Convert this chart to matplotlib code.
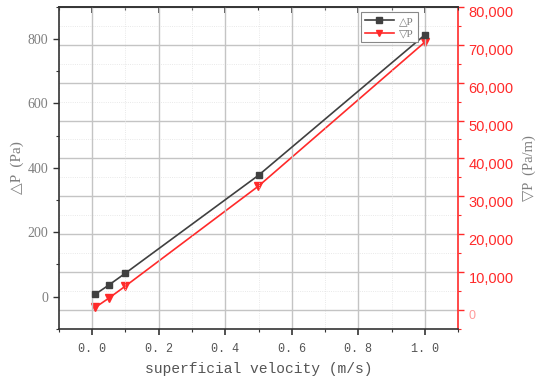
import matplotlib.pyplot as plt
from matplotlib.ticker import MultipleLocator, FuncFormatter
from matplotlib.lines import Line2D
from matplotlib.transforms import ScaledTranslation

# data
velocity = [0.01, 0.05, 0.1, 0.5, 1.0]          # superficial velocity (m/s)
dp = [8, 36, 73, 377, 813]                      # pressure drop (Pa)
grad_p = [700, 3100, 6300, 32700, 70700]        # pressure gradient (Pa/m)

gray_txt = '#7f7f7f'
red = '#ff2a2a'
dark = '#404040'
serif = ['Liberation Serif', 'DejaVu Serif']
mono = ['Liberation Mono', 'DejaVu Sans Mono']

fig = plt.figure(figsize=(5.5, 3.82), dpi=100)
ax = fig.add_axes([0.107, 0.139, 0.726, 0.843])
ax2 = ax.twinx()
ax.set_zorder(ax2.get_zorder() + 1)
ax.patch.set_visible(False)

# right axis: gradient + horizontal grid
ax2.plot(velocity, grad_p, color=red, lw=1.2, marker='v', ms=6, zorder=3)
ax2.set_ylim(-5000, 80000)
ax2.yaxis.set_major_locator(MultipleLocator(10000))
ax2.yaxis.set_minor_locator(MultipleLocator(5000))
ax2.yaxis.set_major_formatter(FuncFormatter(lambda v, p: f'{int(v):,}'))
ax2.tick_params(axis='y', which='major', colors=red, labelsize=10.5, length=4, width=1)
ax2.tick_params(axis='y', which='minor', colors=red, length=2.5, width=0.8)
ax2.grid(axis='y', which='major', color='#c4c4c4', lw=1)
ax2.grid(axis='y', which='minor', color='#e2e2e2', lw=0.6, ls=':')
for s in ['left', 'top', 'bottom']:
    ax2.spines[s].set_visible(False)
ax2.spines['right'].set_color(red)
ax2.spines['right'].set_linewidth(1.2)
ax2.set_ylabel('▽P  (Pa/m)', family=serif, fontsize=10.5, color=gray_txt, labelpad=6)

# left axis: pressure drop + vertical grid
ax.plot(velocity, dp, color=dark, lw=1.2, marker='s', ms=4.8, zorder=3)
ax.set_xlim(-0.1, 1.1)
ax.set_ylim(-100, 900)
ax.xaxis.set_major_locator(MultipleLocator(0.2))
ax.xaxis.set_minor_locator(MultipleLocator(0.1))
ax.yaxis.set_major_locator(MultipleLocator(200))
ax.yaxis.set_minor_locator(MultipleLocator(100))
ax.xaxis.set_major_formatter(FuncFormatter(lambda v, p: f'{v:.1f}'.replace('.', '. ')))
ax.tick_params(axis='x', which='both', direction='out', colors='#333333')
ax.tick_params(axis='x', which='major', length=4, width=1.2, labelsize=8.5, labelcolor='#555555', pad=6)
ax.tick_params(axis='x', which='minor', length=2.5, width=0.8)
ax.tick_params(axis='y', which='major', length=4, width=1, labelsize=10, labelcolor=gray_txt, colors='#333333')
ax.tick_params(axis='y', which='minor', length=2.5, width=0.8, colors='#333333')
ax.grid(axis='x', which='major', color='#c4c4c4', lw=1)
ax.grid(axis='x', which='minor', color='#e2e2e2', lw=0.6, ls=':')
ax.spines['right'].set_visible(False)
for s in ['left', 'top', 'bottom']:
    ax.spines[s].set_color('#333333')
    ax.spines[s].set_linewidth(1.2)
ax.set_xlabel('superficial velocity (m/s)', family=mono, fontsize=10.5, color='#555555', labelpad=5)
ax.set_ylabel('△P  (Pa)', family=serif, fontsize=11, color=gray_txt, labelpad=3)

# top axis: inward ticks, no labels
top = ax.secondary_xaxis('top')
top.xaxis.set_major_locator(MultipleLocator(0.2))
top.xaxis.set_minor_locator(MultipleLocator(0.1))
top.tick_params(which='both', direction='in', labeltop=False, colors='#333333')
top.tick_params(which='major', length=4, width=1.2)
top.tick_params(which='minor', length=2.5, width=0.8)
top.spines['top'].set_color('#333333')
top.spines['top'].set_linewidth(1.2)

handles = [Line2D([], [], color=dark, lw=1.2, marker='s', ms=4),
           Line2D([], [], color=red, lw=1.2, marker='v', ms=5)]
leg = ax.legend(handles, ['△P', '▽P'], loc='upper right', bbox_to_anchor=(0.905, 0.99),
                prop={'family': serif, 'size': 8}, fancybox=False, edgecolor='#888888',
                handlelength=2.6, borderpad=0.35, labelspacing=0.25, handletextpad=0.5,
                framealpha=1, borderaxespad=0.2)
leg.get_frame().set_linewidth(0.8)
for t in leg.get_texts():
    t.set_color(gray_txt)

fig.canvas.draw()
for lab in ax.get_xticklabels():
    lab.set_fontfamily(mono)
for lab in ax.get_yticklabels():
    lab.set_fontfamily(serif)
shift = ScaledTranslation(0, -5 / 100, fig.dpi_scale_trans)
for lab in ax2.get_yticklabels():
    lab.set_fontfamily(['Liberation Sans', 'DejaVu Sans'])
    lab.set_transform(lab.get_transform() + shift)
    if lab.get_text() == '0':
        lab.set_color('#ff9a9a')
        lab.set_fontsize(9)

fig.savefig('out.png', dpi=100)
